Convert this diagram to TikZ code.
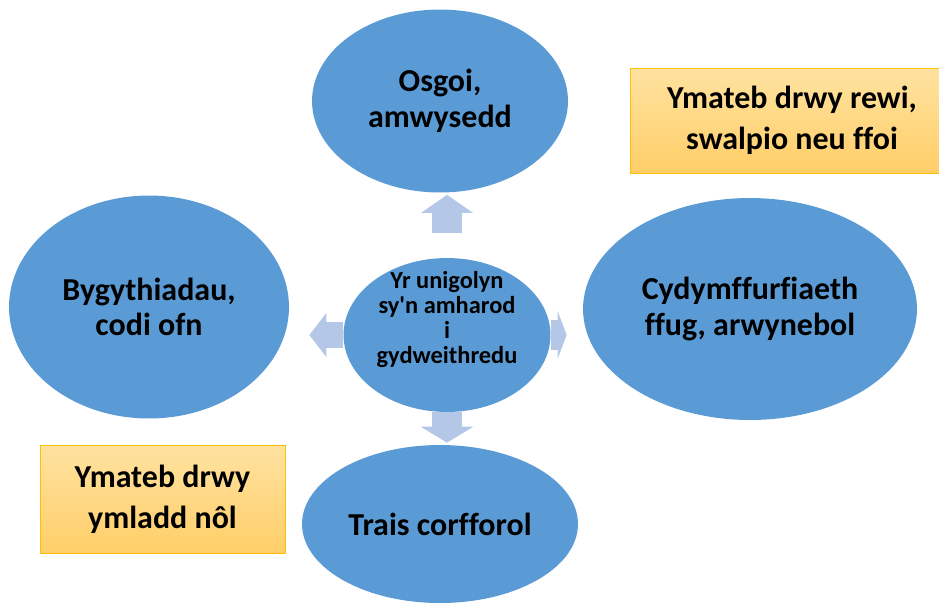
\documentclass[tikz,border=0pt]{standalone}
\usepackage{fontspec}
\setmainfont{Carlito}[Ligatures=NoCommon]
\usetikzlibrary{shapes.geometric,arrows.meta}
\definecolor{blobblue}{HTML}{5B9BD5}
\definecolor{paleblue}{HTML}{B4C7E7}
\definecolor{gold}{HTML}{FFC000}
\definecolor{boxtop}{HTML}{FFE2A0}
\definecolor{boxbot}{HTML}{FFCE68}
\newcommand\evenlines{\setlength{\lineskiplimit}{-6pt}\setlength{\lineskip}{0pt}}

\begin{document}
\begin{tikzpicture}[x=0.02cm,y=-0.02cm,
        blob/.style={ellipse,fill=blobblue,inner sep=0pt,align=center,
            font=\bfseries\fontsize{18.2}{20.2}\selectfont},
        reply/.style={draw=gold,top color=boxtop,bottom color=boxbot,inner sep=0pt,
            align=center,font=\bfseries\fontsize{18.2}{23.2}\selectfont},
        fat/.style={draw=paleblue,line width=0.6cm,
            -{Triangle[width=1.02cm,length=0.36cm]}}]
            \useasboundingbox (0,0) rectangle (939,603);

            \node[blob,minimum width=5.12cm,minimum height=3.66cm] (osgoi) at (440,101) {Osgoi,\\amwysedd};
            \node[blob,minimum width=4.14cm,minimum height=3.08cm,text height=1.12cm,text depth=0cm,
                font=\bfseries\fontsize{13.9}{14.2}\selectfont\evenlines] (centre) at (447,335)
                {Yr unigolyn\\sy\textquotesingle n amharod\\i\\gydweithredu};
            \node[blob,minimum width=5.6cm,minimum height=4.46cm] (bygyth) at (149,307) {Bygythiadau,\\codi ofn};
            \node[blob,minimum width=6.68cm,minimum height=4.44cm] (cydym) at (750,309) {Cydymffurfiaeth\\ffug, arwynebol};
            \node[blob,minimum width=5.52cm,minimum height=3.16cm] (trais) at (440,524) {Trais corfforol};

            \node[reply,minimum width=6.46cm,minimum height=2.1cm] (rewi) at (792,120.5) {Ymateb drwy rewi,\\swalpio neu ffoi};
            \node[reply,minimum width=4.9cm,minimum height=2.16cm] (ymladd) at (162.5,499) {Ymateb drwy\\ymladd nôl};

            \draw[fat,shorten <=0.5cm,shorten >=0.04cm] (centre) to (centre |- osgoi.south);
            \draw[fat,line width=0.52cm,-{Triangle[width=0.86cm,length=0.34cm]},shorten >=0.4cm] (centre) to (centre -| bygyth.east);
            \draw[fat,-{Triangle[width=0.94cm,length=0.18cm]},shorten >=0.32cm] (centre) to (centre -| cydym.west);
            \draw[fat,-{Triangle[width=1.04cm,length=0.32cm]},shorten >=0.04cm] (centre) to (centre |- trais.north);
        \end{tikzpicture}
\end{document}
